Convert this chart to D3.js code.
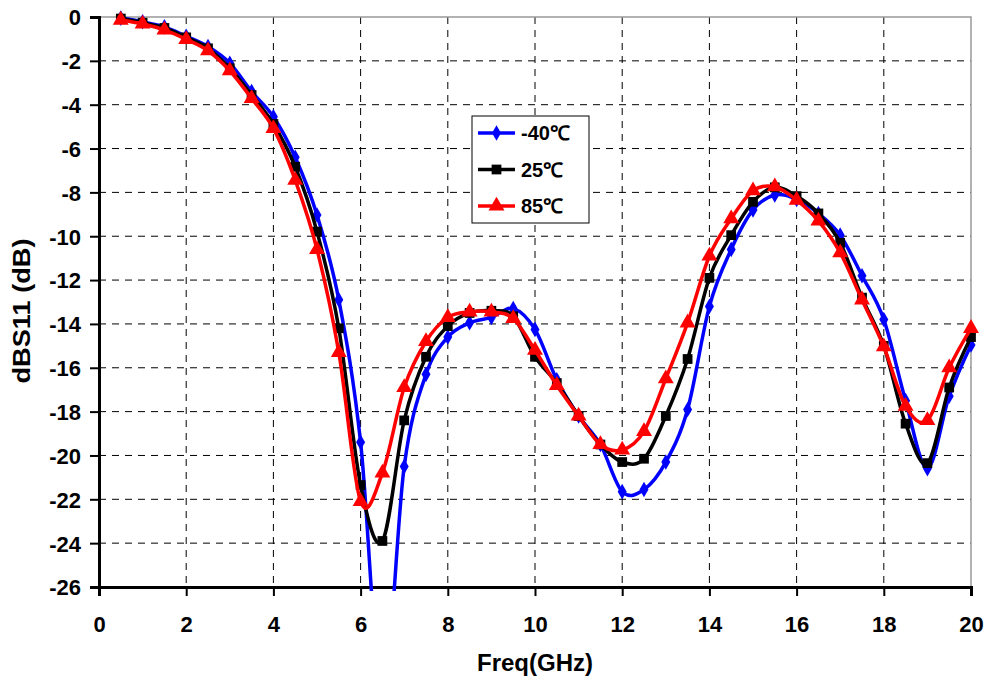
<!DOCTYPE html>
<html>
<head>
<meta charset="utf-8">
<script src="https://cdn.jsdelivr.net/npm/d3@7"></script>
<style>
    body { margin: 0; background: #fff; }
    svg text { font-family: "Liberation Sans", Arial, sans-serif; font-weight: bold; }
</style>
</head>
<body>
<svg id="chart"></svg>
<script>
// frequency points (GHz)
const freq = [0.5, 1, 1.5, 2, 2.5, 3, 3.5, 4, 4.5, 5, 5.5, 6, 6.5, 7, 7.5, 8, 8.5, 9, 9.5, 10,
    10.5, 11, 11.5, 12, 12.5, 13, 13.5, 14, 14.5, 15, 15.5, 16, 16.5, 17, 17.5, 18, 18.5, 19, 19.5, 20];

const sMinus40 = [-0.05, -0.22, -0.45, -0.88, -1.35, -2.11, -3.4, -4.55, -6.4, -9.03,
    -12.9, -19.4, -31.0, -20.5, -16.3, -14.6, -13.95, -13.7, -13.3, -14.25,
    -16.55, -18.2, -19.5, -21.65, -21.55, -20.3, -17.9, -13.2, -10.6, -8.8,
    -8.12, -8.32, -8.96, -9.95, -11.8, -13.8, -17.5, -20.6, -17.3, -14.96];

const s25 = [-0.07, -0.26, -0.5, -0.93, -1.43, -2.34, -3.56, -4.88, -6.83, -9.79,
    -14.2, -21.35, -23.9, -18.4, -15.5, -14.1, -13.5, -13.4, -13.65, -15.5,
    -16.7, -18.2, -19.5, -20.3, -20.15, -18.2, -15.6, -11.9, -9.95, -8.43,
    -7.77, -8.17, -8.96, -10.3, -12.8, -15.0, -18.55, -20.35, -16.9, -14.6];

const s85 = [-0.14, -0.32, -0.59, -1.02, -1.54, -2.45, -3.71, -5.08, -7.44, -10.6,
    -15.3, -22.1, -20.8, -16.9, -14.8, -13.7, -13.45, -13.45, -13.75, -15.2,
    -16.8, -18.2, -19.5, -19.75, -18.9, -16.5, -13.95, -10.9, -9.2, -7.92,
    -7.74, -8.35, -9.3, -10.75, -12.9, -15.04, -17.75, -18.4, -16.0, -14.2];

const seriesNames = ["-40℃", "25℃", "85℃"];
const seriesColors = ["#0000ff", "#000000", "#ff0000"];
const seriesMarkers = ["diamond", "square", "triangle"];
const xTicks = [0, 2, 4, 6, 8, 10, 12, 14, 16, 18, 20];
const yTicks = [0, -2, -4, -6, -8, -10, -12, -14, -16, -18, -20, -22, -24, -26];

const width = 988, height = 681;
const margin = { top: 17, right: 17, bottom: 94, left: 99 };
const w = width - margin.left - margin.right;
const h = height - margin.top - margin.bottom;

const svg = d3.select("#chart").attr("width", width).attr("height", height);

const x = d3.scaleLinear().domain([0, 20]).range([0, w]);
const y = d3.scaleLinear().domain([-26, 0]).range([h, 0]);

const g = svg.append("g").attr("transform", `translate(${margin.left},${margin.top})`);

svg.append("defs").append("clipPath").attr("id", "clip")
    .append("rect").attr("x", -10).attr("y", -10).attr("width", w + 20).attr("height", h + 14);

// grid
g.append("g").selectAll("line").data(yTicks.filter(d => d !== 0 && d !== -26)).join("line")
    .attr("x1", 0).attr("x2", w)
    .attr("y1", d => y(d)).attr("y2", d => y(d))
    .attr("stroke", "#000").attr("stroke-width", 1).attr("stroke-dasharray", "7,6");
g.append("g").selectAll("line").data(xTicks.filter(d => d !== 0 && d !== 20)).join("line")
    .attr("x1", d => x(d)).attr("x2", d => x(d))
    .attr("y1", 0).attr("y2", h)
    .attr("stroke", "#000").attr("stroke-width", 1).attr("stroke-dasharray", "7,6");

// grey frame top/right
g.append("path")
    .attr("d", `M0,0H${w}V${h}`)
    .attr("fill", "none").attr("stroke", "#999").attr("stroke-width", 1.5);

// axes (plain hyphen for negatives, like the original)
const fmt = d => String(d);
const xAxis = g.append("g").attr("transform", `translate(0,${h})`)
    .call(d3.axisBottom(x).tickValues(xTicks).tickSize(9).tickPadding(20).tickFormat(fmt));
const yAxis = g.append("g")
    .call(d3.axisLeft(y).tickValues(yTicks).tickSize(9).tickPadding(9).tickFormat(fmt));
[xAxis, yAxis].forEach(a => {
    a.select(".domain").attr("stroke", "#000").attr("stroke-width", 3);
    a.selectAll(".tick line").attr("stroke", "#000").attr("stroke-width", 2);
    a.selectAll(".tick text").attr("fill", "#000").style("font-size", "22px");
});
yAxis.selectAll(".tick text").attr("dy", "0.36em");

// series
const line = d3.line()
    .x((d, i) => x(freq[i]))
    .y(d => y(d))
    .curve(d3.curveCatmullRom.alpha(0));

const symbolFor = {
    diamond: d3.symbol().type(d3.symbolDiamond).size(70),
    square: d3.symbol().type(d3.symbolSquare).size(95),
    triangle: d3.symbol().type(d3.symbolTriangle).size(110)
};

const plot = g.append("g").attr("clip-path", "url(#clip)");
[sMinus40, s25, s85].forEach((vals, k) => {
    const sg = plot.append("g");
    sg.append("path").datum(vals)
        .attr("d", line)
        .attr("fill", "none")
        .attr("stroke", seriesColors[k])
        .attr("stroke-width", 3.5);
    sg.selectAll("path.mk").data(vals.map((v, i) => [freq[i], v]).filter(d => d[1] >= -26))
        .join("path").attr("class", "mk")
        .attr("transform", d => `translate(${x(d[0])},${y(d[1])})`)
        .attr("d", symbolFor[seriesMarkers[k]]())
        .attr("fill", seriesColors[k]);
});

// axis titles
svg.append("text")
    .attr("x", margin.left + w / 2).attr("y", 671)
    .attr("text-anchor", "middle").style("font-size", "24px")
    .text("Freq(GHz)");
svg.append("text")
    .attr("transform", `translate(30,311) rotate(-90)`)
    .attr("text-anchor", "middle").style("font-size", "24px")
    .attr("textLength", 145).attr("lengthAdjust", "spacingAndGlyphs")
    .text("dBS11 (dB)");

// legend
const legend = svg.append("g").attr("transform", "translate(472,116)");
legend.append("rect").attr("width", 117).attr("height", 107)
    .attr("fill", "#fff").attr("stroke", "#000").attr("stroke-width", 1);
seriesNames.forEach((name, k) => {
    const ly = 17 + k * 36.5;
    legend.append("line").attr("x1", 6).attr("x2", 43).attr("y1", ly).attr("y2", ly)
        .attr("stroke", seriesColors[k]).attr("stroke-width", 3.5);
    legend.append("path").attr("transform", `translate(24.5,${ly})`)
        .attr("d", symbolFor[seriesMarkers[k]]()).attr("fill", seriesColors[k]);
    legend.append("text").attr("x", 49).attr("y", ly).attr("dy", "0.36em")
        .style("font-size", "20px").text(name);
});
</script>
</body>
</html>
